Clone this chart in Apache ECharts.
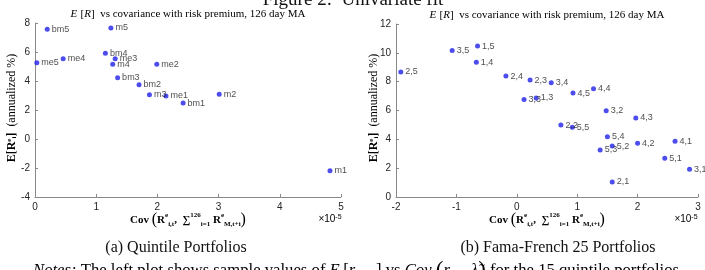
<!DOCTYPE html>
<html>
<head>
<meta charset="utf-8">
<script src="https://cdn.jsdelivr.net/npm/echarts@6/dist/echarts.min.js"></script>
<style>
  html, body { margin: 0; padding: 0; background: #fff; }
  #chart { width: 705px; height: 270px; }
</style>
</head>
<body>
<div id="chart"></div>
<script>
// quintile portfolios (cov in units of 1e-5, E[R] in annualized %)
const quintNames = ["bm5", "m5", "bm4", "me3", "m4", "me5", "me4", "me2", "bm3", "bm2", "m3", "me1", "bm1", "m2", "m1"];
const quintCov   = [0.20, 1.24, 1.15, 1.31, 1.27, 0.03, 0.46, 1.99, 1.35, 1.70, 1.87, 2.14, 2.42, 3.01, 4.82];
const quintRet   = [7.57, 7.66, 5.91, 5.54, 5.15, 5.26, 5.54, 5.15, 4.23, 3.74, 3.06, 2.97, 2.48, 3.08, -2.19];

// Fama-French 25
const ffNames = ["2,5", "3,5", "1,5", "1,4", "2,4", "2,3", "3,4", "4,4", "4,5", "3,3", "1,3", "3,2", "4,3",
                 "2,2", "5,5", "5,4", "5,2", "4,2", "4,1", "5,3", "5,1", "3,1", "2,1"];
const ffCov = [-1.92, -1.07, -0.65, -0.67, -0.18, 0.22, 0.57, 1.27, 0.93, 0.12, 0.32, 1.48, 1.97,
               0.73, 0.92, 1.50, 1.58, 2.00, 2.62, 1.38, 2.45, 2.86, 1.58];
const ffRet = [8.67, 10.17, 10.47, 9.34, 8.39, 8.11, 7.93, 7.51, 7.21, 6.77, 6.87, 5.98, 5.48,
               4.99, 4.83, 4.18, 3.53, 3.72, 3.86, 3.26, 2.68, 1.92, 1.04];

// axis ranges [min, max, step]
const leftX  = [0, 5, 1];
const leftY  = [-4, 8, 2];
const rightX = [-2, 3, 1];
const rightY = [0, 12, 2];

const blue = "#2020e8";
const axisGray = "#8a8a8a";
const tickColor = "#262626";
const serif = "'Liberation Serif', 'DejaVu Serif', serif";
const sans = "'Liberation Sans', Arial, sans-serif";

let chart = echarts.init(document.getElementById("chart"), null, { renderer: "canvas" });

function axis(range) {
    return {
        type: "value",
        min: range[0], max: range[1], interval: range[2],
        axisLine: { show: true, onZero: false, lineStyle: { color: axisGray, width: 1 } },
        axisTick: { show: true, inside: true, length: 3, lineStyle: { color: axisGray } },
        axisLabel: { color: tickColor, fontSize: 10, fontFamily: sans, margin: 5 },
        splitLine: { show: false }
    };
}

function scatter(names, xs, ys, idx) {
    return {
        type: "scatter",
        xAxisIndex: idx, yAxisIndex: idx,
        data: names.map((n, i) => [xs[i], ys[i], n]),
        symbolSize: 5,
        itemStyle: { color: blue },
        label: {
            show: true, position: "right", distance: 2,
            formatter: (p) => p.data[2],
            fontSize: 9, color: "#222", fontFamily: sans
        },
        emphasis: { disabled: true },
        animation: false
    };
}

// rich styles for math-ish labels
const rich = {
    b:   { fontFamily: serif, fontWeight: "bold", fontSize: 11, color: "#111", verticalAlign: "middle" },
    yb:  { fontFamily: serif, fontWeight: "bold", fontSize: 12, color: "#111", verticalAlign: "middle" },
    n:   { fontFamily: serif, fontSize: 12, color: "#444", verticalAlign: "middle" },
    p:   { fontFamily: serif, fontSize: 16, color: "#111", verticalAlign: "middle" },
    sup: { fontFamily: serif, fontWeight: "bold", fontSize: 7, color: "#111", verticalAlign: "top" },
    sub: { fontFamily: serif, fontWeight: "bold", fontSize: 7, color: "#111", verticalAlign: "bottom" },
    it:  { fontFamily: serif, fontStyle: "italic", fontSize: 11, color: "#111" },
    r:   { fontFamily: serif, fontSize: 11, color: "#111" },
    x:   { fontFamily: sans, fontSize: 10, color: tickColor },
    xs:  { fontFamily: sans, fontSize: 7, color: tickColor, verticalAlign: "top" },
    ni:  { fontFamily: serif, fontStyle: "italic", fontSize: 16.7, color: "#111" },
    nr:  { fontFamily: serif, fontSize: 16.7, color: "#111" },
    nb:  { fontFamily: serif, fontSize: 23, color: "#111" },
    ns:  { fontFamily: serif, fontStyle: "italic", fontSize: 10.5, color: "#111", verticalAlign: "bottom" }
};

const covLabel = "{b|Cov }{p|(}{b|R}{sup|e}{sub|i,t}{b|,  \u2211}{sup|126}{sub|i=1}{b| R}{sup|e}{sub|M,t+i}{p|)}";
const eLabel = "{yb|E[R}{sup|e}{sub|i}{yb|]}{n|  (annualized %)}";
const panelTitle = "{it|E} {r|[}{it|R}{r|]  vs covariance with risk premium, 126 day MA}";
const scaleLabel = "{x|\u00d710}{xs|-5}";
const notes = "{ni|Notes:}{nr| The left plot shows sample values of }{ni|E} {nr|[}{ni|r}{ns|i,t+1}{nr|] vs }" +
              "{ni|Cov }{nb|(}{ni|r}{ns|i,t}{nr|,  }{ni|\u03bb\u0303}{nb|)}{nr| for the 15 quintile portfolios}";

function text(x, y, str, extra) {
    return {
        type: "text", x: x, y: y, silent: true,
        style: Object.assign({ text: str, rich: rich, align: "center", verticalAlign: "middle" }, extra || {})
    };
}

chart.setOption({
    animation: false,
    grid: [
        { left: 35, top: 23, width: 306, height: 174 },
        { left: 396, top: 24, width: 302, height: 173 }
    ],
    xAxis: [Object.assign(axis(leftX), { gridIndex: 0 }), Object.assign(axis(rightX), { gridIndex: 1 })],
    yAxis: [Object.assign(axis(leftY), { gridIndex: 0 }), Object.assign(axis(rightY), { gridIndex: 1 })],
    series: [
        scatter(quintNames, quintCov, quintRet, 0),
        scatter(ffNames, ffCov, ffRet, 1)
    ],
    graphic: [
        { type: "text", x: 353, y: 10, silent: true,
          style: { text: "Figure 2:  Univariate fit", font: "19px " + serif, fill: "#111", align: "center", verticalAlign: "bottom" } },
        text(188, 14, panelTitle),
        text(547, 15, panelTitle),
        text(188, 220, covLabel),
        text(547, 220, covLabel),
        text(330, 219, scaleLabel),
        text(686, 219, scaleLabel),
        Object.assign(text(12, 108, eLabel), { rotation: Math.PI / 2 }),
        Object.assign(text(374, 108, eLabel), { rotation: Math.PI / 2 }),
        { type: "text", x: 176, y: 248, silent: true,
          style: { text: "(a) Quintile Portfolios", font: "16px " + serif, fill: "#111", align: "center", verticalAlign: "middle" } },
        { type: "text", x: 558, y: 248, silent: true,
          style: { text: "(b) Fama-French 25 Portfolios", font: "16px " + serif, fill: "#111", align: "center", verticalAlign: "middle" } },
        text(33, 271, notes, { align: "left" })
    ]
});
</script>
</body>
</html>
